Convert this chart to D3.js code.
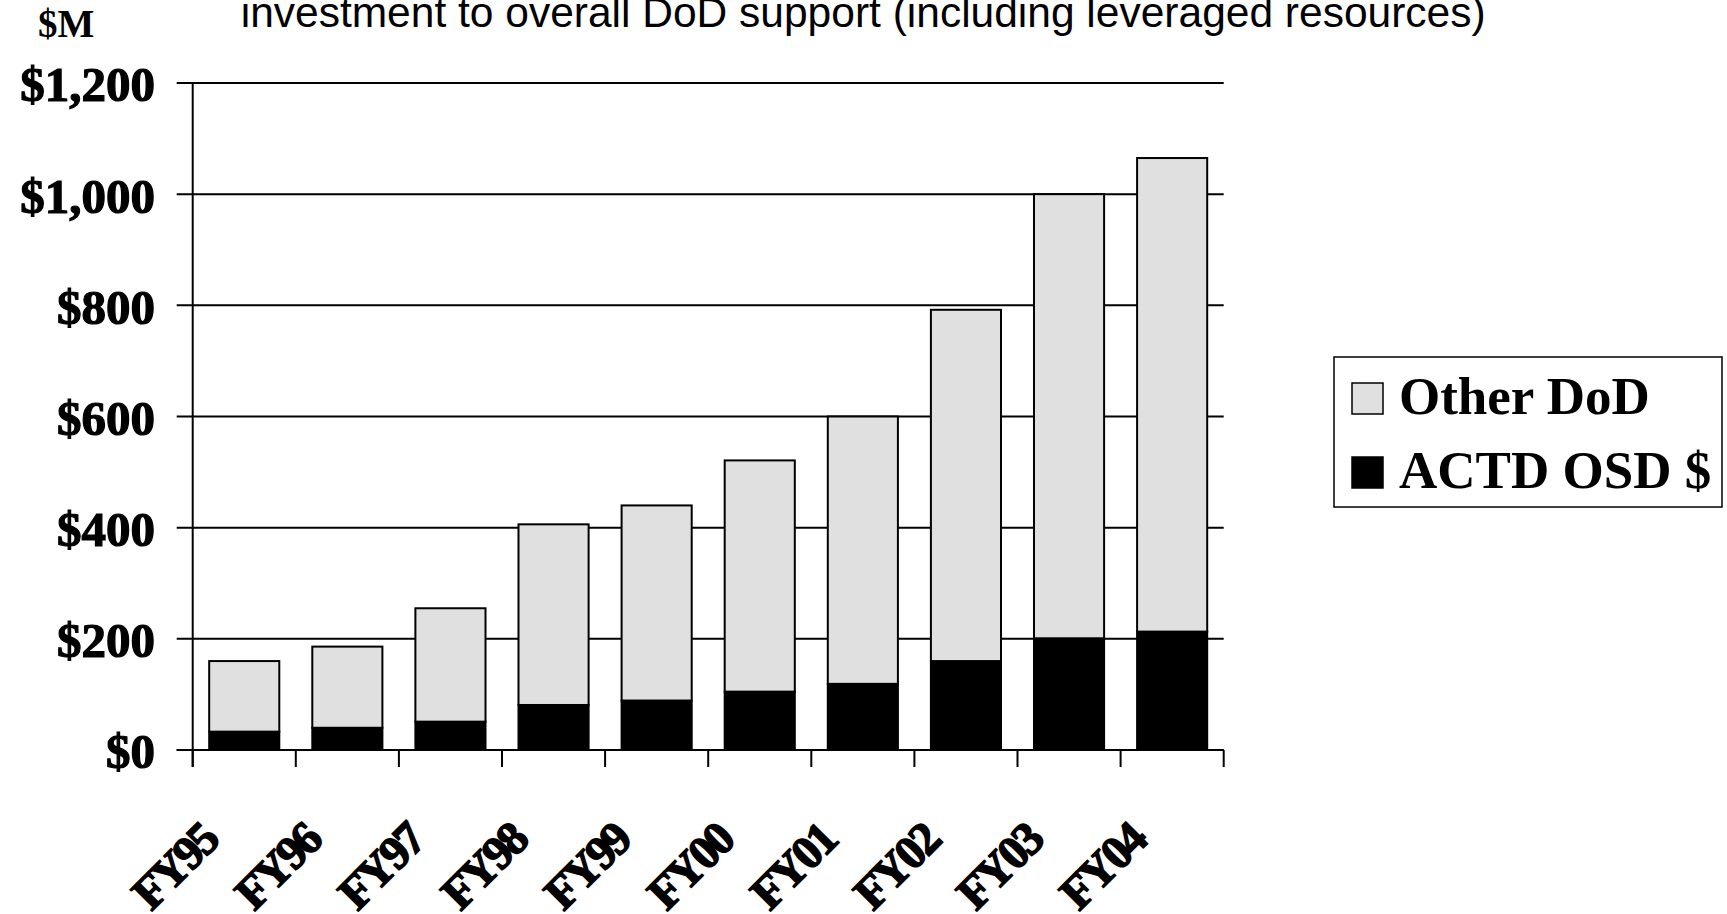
<!DOCTYPE html>
<meta charset="utf-8">
<style>
  body { margin: 0; background: #fff; }
  .grid line { stroke: #000; stroke-width: 2px; }
  .bar { stroke: #000; stroke-width: 2px; }
  .ylab { font: bold 49px "Liberation Serif", serif; stroke: #000; stroke-width: 1.2px; }
  .xlab { font: bold 47px "Liberation Serif", serif; letter-spacing: -3px; stroke: #000; stroke-width: 1.5px; }
  .leg { font: bold 53px "Liberation Serif", serif; }
</style>
<svg width="1727" height="914"></svg>
<script src="https://cdn.jsdelivr.net/npm/d3@7/dist/d3.min.js"></script>
<script>

  // data ($M)
  var years = ["FY95", "FY96", "FY97", "FY98", "FY99", "FY00", "FY01", "FY02", "FY03", "FY04"];
  var actdOsd = [33, 40, 51, 81, 89, 105, 119, 160, 201, 213];
  var otherDod = [127, 146, 204, 325, 351, 416, 481, 632, 799, 852];
  var yTicks = [0, 200, 400, 600, 800, 1000, 1200];
  var seriesNames = ["Other DoD", "ACTD OSD $"];
  var seriesColors = ["#e0e0e0", "#000000"];

  var svg = d3.select("svg"),
    plotLeft = 192.7, plotRight = 1223.7, plotTop = 83, plotBottom = 750;

  var rows = years.map(function (y, i) {
    return { year: y, actd: actdOsd[i], other: otherDod[i] };
  });

  var stack = d3.stack().keys(["actd", "other"]);
  var layers = stack(rows);

  // scales
  var xScale = d3.scaleBand()
    .domain(years)
    .range([plotLeft, plotRight])
    .paddingInner(0.32)
    .paddingOuter(0.16);
  var yScale = d3.scaleLinear()
    .domain([0, 1200])
    .range([plotBottom, plotTop]);

  var step = xScale.step();

  // title (cut off at the top in the original)
  svg.append("text")
    .attr("x", 240.7)
    .attr("y", 27)
    .style("font", "42.5px 'Liberation Sans', Arial, sans-serif")
    .text("investment to overall DoD support (including leveraged resources)");

  svg.append("text")
    .attr("x", 38)
    .attr("y", 37)
    .style("font", "bold 39px 'Liberation Serif', serif")
    .text("$M");

  // gridlines with the left ticks
  svg.append("g")
    .attr("class", "grid")
    .selectAll("line")
    .data(yTicks)
    .enter().append("line")
    .attr("x1", plotLeft - 16)
    .attr("x2", plotRight)
    .attr("y1", function (d) { return yScale(d); })
    .attr("y2", function (d) { return yScale(d); });

  // y labels
  svg.append("g")
    .selectAll("text")
    .data(yTicks)
    .enter().append("text")
    .attr("class", "ylab")
    .attr("x", 155)
    .attr("y", function (d) { return yScale(d); })
    .attr("dy", "0.375em")
    .attr("text-anchor", "end")
    .text(function (d) { return "$" + d3.format(",")(d); });

  // bars
  svg.append("g")
    .selectAll("g")
    .data(layers)
    .enter().append("g")
    .attr("fill", function (d, i) { return i === 0 ? seriesColors[1] : seriesColors[0]; })
    .selectAll("rect")
    .data(function (d) { return d; })
    .enter().append("rect")
    .attr("class", "bar")
    .attr("x", function (d) { return xScale(d.data.year); })
    .attr("width", xScale.bandwidth())
    .attr("y", function (d) { return yScale(d[1]); })
    .attr("height", function (d) { return yScale(d[0]) - yScale(d[1]); });

  // axis lines and category ticks
  var axes = svg.append("g").attr("class", "grid");
  axes.append("line")
    .attr("x1", plotLeft).attr("x2", plotLeft)
    .attr("y1", plotTop).attr("y2", plotBottom + 17);
  axes.append("line")
    .attr("x1", plotLeft - 16).attr("x2", plotRight)
    .attr("y1", plotBottom).attr("y2", plotBottom);
  axes.selectAll(".xt")
    .data(d3.range(years.length + 1))
    .enter().append("line")
    .attr("x1", function (i) { return plotLeft + i * step; })
    .attr("x2", function (i) { return plotLeft + i * step; })
    .attr("y1", plotBottom)
    .attr("y2", plotBottom + 17);

  // x labels, rotated
  svg.append("g")
    .selectAll("text")
    .data(years)
    .enter().append("text")
    .attr("class", "xlab")
    .attr("text-anchor", "end")
    .attr("transform", function (d) {
      return "translate(" + (xScale(d) + xScale.bandwidth() / 2 - 24) + "," + (plotBottom + 93) + ") rotate(-45)";
    })
    .text(function (d) { return d; });

  // legend
  var legend = svg.append("g");
  legend.append("rect")
    .attr("x", 1334).attr("y", 357)
    .attr("width", 388).attr("height", 150)
    .attr("fill", "#fff").attr("stroke", "#000").attr("stroke-width", 1.5);

  var item = legend.selectAll(".item")
    .data(seriesNames)
    .enter().append("g")
    .attr("transform", function (d, i) { return "translate(1352," + (383 + i * 74) + ")"; });

  item.append("rect")
    .attr("width", 31).attr("height", 31)
    .attr("fill", function (d, i) { return seriesColors[i]; })
    .attr("stroke", "#000").attr("stroke-width", 1.5);

  item.append("text")
    .attr("class", "leg")
    .attr("x", 47)
    .attr("y", 31)
    .text(function (d) { return d; });

</script>
